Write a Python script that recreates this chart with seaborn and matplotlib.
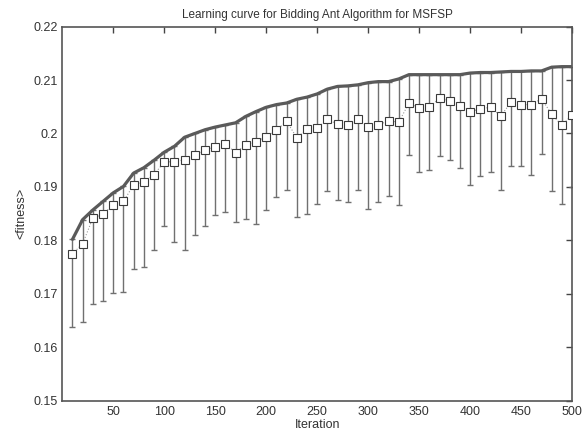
import numpy as np
import pandas as pd
import matplotlib
matplotlib.use("Agg")
import matplotlib.pyplot as plt
import seaborn as sns

# iterations (every 10)
iteration = list(range(10, 510, 10))

# best fitness so far (thick line)
max_fit = [0.1802, 0.1839, 0.1857, 0.1873, 0.1889, 0.1901, 0.1926, 0.1936, 0.1950, 0.1965,
           0.1976, 0.1993, 0.2000, 0.2007, 0.2012, 0.2016, 0.2020, 0.2032, 0.2041, 0.2049,
           0.2054, 0.2057, 0.2064, 0.2068, 0.2074, 0.2083, 0.2088, 0.2089, 0.2091, 0.2095,
           0.2097, 0.2097, 0.2102, 0.2110, 0.2110, 0.2110, 0.2110, 0.2110, 0.2110, 0.2113,
           0.2114, 0.2114, 0.2115, 0.2116, 0.2116, 0.2117, 0.2117, 0.2124, 0.2125, 0.2125]

# mean fitness (squares)
mean_fit = [0.1775, 0.1794, 0.1842, 0.1849, 0.1867, 0.1873, 0.1904, 0.1909, 0.1923, 0.1947,
            0.1947, 0.1951, 0.1959, 0.1970, 0.1974, 0.1981, 0.1964, 0.1979, 0.1985, 0.1993,
            0.2006, 0.2023, 0.1992, 0.2008, 0.2010, 0.2027, 0.2017, 0.2015, 0.2027, 0.2012,
            0.2016, 0.2024, 0.2021, 0.2057, 0.2048, 0.2049, 0.2066, 0.2061, 0.2051, 0.2041,
            0.2046, 0.2049, 0.2033, 0.2058, 0.2054, 0.2054, 0.2065, 0.2036, 0.2015, 0.2035]

# worst fitness (lower whisker)
min_fit = [0.1639, 0.1647, 0.1682, 0.1687, 0.1701, 0.1704, 0.1746, 0.1751, 0.1782, 0.1827,
           0.1797, 0.1782, 0.1811, 0.1827, 0.1847, 0.1853, 0.1835, 0.1841, 0.1830, 0.1857,
           0.1882, 0.1894, 0.1843, 0.1849, 0.1868, 0.1892, 0.1875, 0.1871, 0.1894, 0.1858,
           0.1871, 0.1883, 0.1866, 0.1959, 0.1928, 0.1932, 0.1957, 0.1951, 0.1936, 0.1903,
           0.1920, 0.1928, 0.1894, 0.1940, 0.1940, 0.1922, 0.1962, 0.1892, 0.1869, 0.1900]

df = pd.DataFrame({"Iteration": iteration, "max": max_fit, "mean": mean_fit, "min": min_fit})

sns.set_style("white")
plt.rcParams['font.family'] = ['Liberation Sans', 'DejaVu Sans']

fig = plt.figure(figsize=(5.82, 4.42), dpi=100)
ax = fig.add_axes([0.107, 0.093, 0.876, 0.847])

lower = df["mean"] - df["min"]
upper = df["max"] - df["mean"]
ax.errorbar(df["Iteration"], df["mean"], yerr=[lower, upper], fmt="none",
            ecolor="#707070", elinewidth=1.0, capsize=2.4, capthick=1.0, zorder=2)

sns.lineplot(data=df, x="Iteration", y="mean", ax=ax, color="#999999", linestyle=":",
             linewidth=0.8, marker="s", markersize=5.2, markerfacecolor="white",
             markeredgecolor="#3a3a3a", markeredgewidth=0.8, zorder=3)
sns.lineplot(data=df, x="Iteration", y="max", ax=ax, color="#5a5a5a", linewidth=2.3, zorder=4)

ax.set_xlim(0, 500)
ax.set_ylim(0.15, 0.22)
ax.set_xticks(range(50, 501, 50))
ax.set_yticks(np.arange(0.15, 0.2201, 0.01))
ax.set_yticklabels(["0.15", "0.16", "0.17", "0.18", "0.19", "0.2", "0.21", "0.22"])
ax.tick_params(direction="in", top=True, right=True, length=4, width=1,
               color="#444444", labelsize=9, labelcolor="#333333")
for s in ax.spines.values():
    s.set_color("#555555")
    s.set_linewidth(1.2)

ax.set_title("Learning curve for Bidding Ant Algorithm for MSFSP", fontsize=8.5, color="#333333", pad=6)
ax.set_xlabel("Iteration", fontsize=9, color="#333333", labelpad=1)
ax.set_ylabel("<fitness>", fontsize=9, color="#333333", labelpad=4)

fig.savefig("out.png", dpi=100)
